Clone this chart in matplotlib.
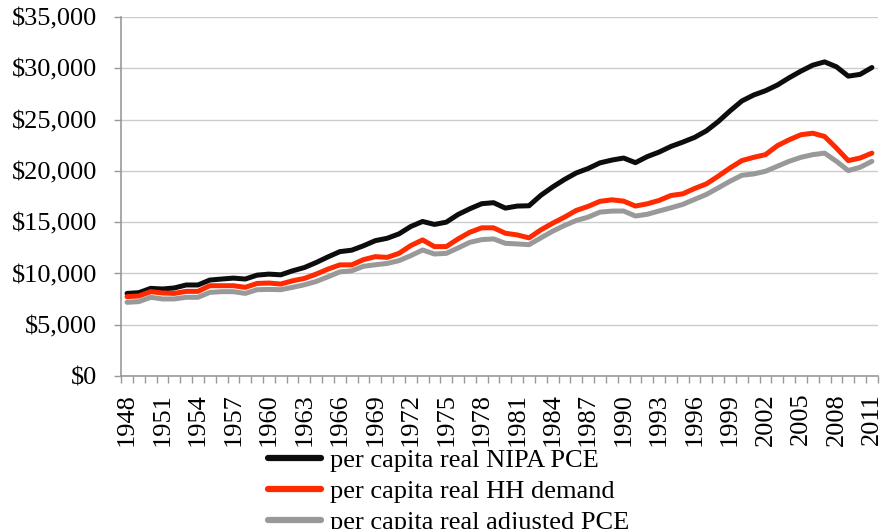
import numpy as np
import matplotlib
matplotlib.use("Agg")
import matplotlib.pyplot as plt
from matplotlib.ticker import FuncFormatter, FixedLocator

plt.rcParams['font.family'] = ['Liberation Serif', 'DejaVu Serif']

years = list(range(1948, 2012))

# per capita real NIPA PCE (black)
nipa_pce = [8060, 8130, 8550, 8490, 8590, 8880, 8880, 9360, 9460, 9550,
            9460, 9840, 9940, 9870, 10260, 10580, 11070, 11620, 12130, 12270,
            12700, 13200, 13430, 13860, 14580, 15070, 14780, 15000, 15750, 16310,
            16800, 16900, 16370, 16570, 16600, 17620, 18430, 19160, 19800, 20230,
            20780, 21050, 21250, 20800, 21390, 21830, 22380, 22800, 23260, 23900,
            24800, 25840, 26810, 27390, 27810, 28360, 29070, 29720, 30300, 30620,
            30140, 29230, 29400, 30070]

# per capita real HH demand (red)
hh_demand = [7740, 7810, 8230, 8100, 8060, 8260, 8260, 8810, 8810, 8810,
             8650, 9030, 9070, 8970, 9290, 9520, 9940, 10430, 10840, 10840,
             11350, 11640, 11570, 11960, 12720, 13270, 12620, 12620, 13370, 14020,
             14450, 14450, 13920, 13760, 13470, 14250, 14900, 15490, 16150, 16540,
             17030, 17180, 17050, 16570, 16790, 17120, 17600, 17760, 18280, 18730,
             19480, 20280, 21000, 21320, 21580, 22450, 23030, 23520, 23670, 23350,
             22220, 21000, 21250, 21730]

# per capita real adjusted PCE (gray)
adj_pce = [7190, 7260, 7680, 7520, 7520, 7680, 7680, 8160, 8230, 8230,
           8060, 8420, 8450, 8420, 8650, 8900, 9220, 9680, 10160, 10260,
           10700, 10850, 10980, 11250, 11740, 12290, 11900, 11960, 12490, 13040,
           13300, 13370, 12940, 12880, 12810, 13470, 14120, 14680, 15170, 15490,
           15980, 16080, 16090, 15600, 15770, 16090, 16400, 16730, 17220, 17700,
           18340, 18990, 19570, 19700, 19960, 20450, 20930, 21320, 21580, 21730,
           20930, 20030, 20350, 20930]

labels = ['per capita real NIPA PCE', 'per capita real HH demand',
          'per capita real adjusted PCE']

fig = plt.figure(figsize=(8.84, 5.29), dpi=100)
ax = fig.add_axes([0.137, 0.289, 0.856, 0.679])

x = np.arange(len(years))
l1, = ax.plot(x, nipa_pce, color='#0d0d0d', lw=3.6, zorder=3, solid_capstyle='round')
l2, = ax.plot(x, hh_demand, color='#ff2a00', lw=3.6, zorder=4, solid_capstyle='round')
l3, = ax.plot(x, adj_pce, color='#999999', lw=3.6, zorder=2, solid_capstyle='round')

ax.set_xlim(-0.5, len(years) - 0.5)
ax.set_ylim(0, 35000)
ax.set_yticks(np.arange(0, 35001, 5000))
ax.yaxis.set_major_formatter(FuncFormatter(lambda v, p: '${:,.0f}'.format(v)))
ax.grid(axis='y', color='#cccccc', lw=1.0, zorder=0)
ax.set_axisbelow(True)

ax.set_xticks(x[::3])
ax.set_xticklabels([str(y) for y in years[::3]], rotation=90)
ax.xaxis.set_minor_locator(FixedLocator(np.arange(-0.5, len(years), 1.0)))
ax.tick_params(axis='x', which='major', length=0, pad=12, labelsize=19)
ax.tick_params(axis='x', which='minor', length=5, color='#999999', width=1)
ax.tick_params(axis='y', length=5, color='#999999', width=1, labelsize=19, pad=12)

for s in ['top', 'right']:
    ax.spines[s].set_visible(False)
for s in ['left', 'bottom']:
    ax.spines[s].set_color('#999999')
    ax.spines[s].set_linewidth(1.2)

# the last legend row runs off the bottom edge, as in the source chart
leg = fig.legend([l1, l2, l3], labels, loc='upper left', bbox_to_anchor=(0.303, 0.152),
                 frameon=False, fontsize=19, labelspacing=0.28, handlelength=2.0,
                 handletextpad=0.35, borderaxespad=0, borderpad=0)
for h in leg.get_lines():
    h.set_linewidth(4.5)

fig.savefig('out.png', dpi=100)
